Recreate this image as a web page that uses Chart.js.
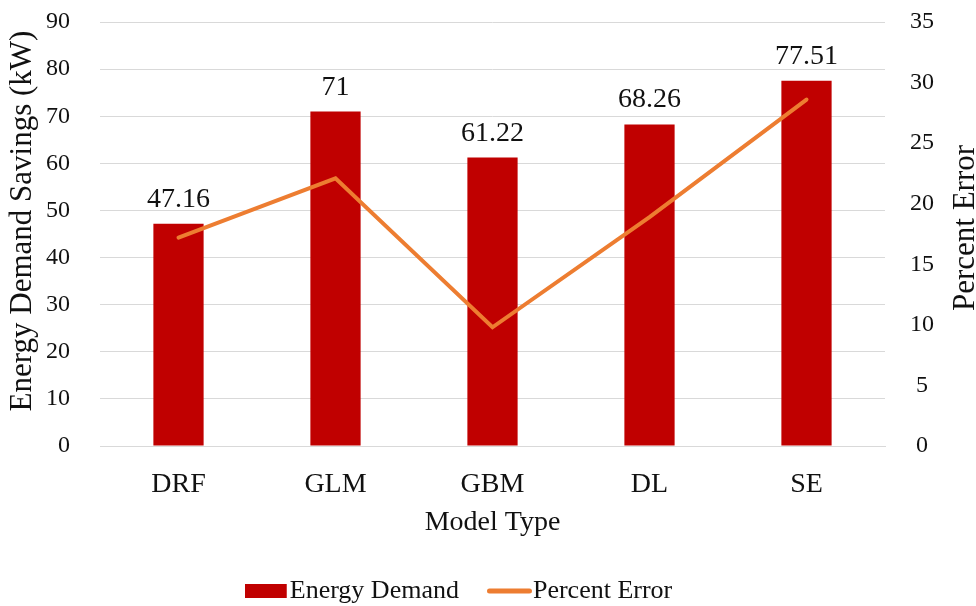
<!DOCTYPE html>
<html>
<head>
<meta charset="utf-8">
<script src="https://cdn.jsdelivr.net/npm/chart.js@4.4.1/dist/chart.umd.min.js"></script>
<style>
  html, body { margin: 0; padding: 0; background: #fff; }
  .chartBox { width: 976px; height: 606px; }
</style>
</head>
<body>
<div class="chartBox">
  <canvas id="myCanvas"></canvas>
</div>
<script>
const modelTypes = ["DRF", "GLM", "GBM", "DL", "SE"];
const energyDemand = [47.16, 71, 61.22, 68.26, 77.51];
const percentError = [17.2, 22.1, 9.8, 18.9, 28.6];
const leftTicks = { min: 0, max: 90, step: 10 };
const rightTicks = { min: 0, max: 35, step: 5 };

const barColor = "#C00000";
const lineColor = "#ED7D31";
const textColor = "#111";
const serif = "'Liberation Serif', 'Times New Roman', serif";
const hidden = "rgba(0,0,0,0)";

Chart.defaults.font.family = serif;
Chart.defaults.color = textColor;

// legend swatches (drawn off-centre so the text sits close like in Excel)
const makeSwatch = (w, h, draw) => {
  const c = document.createElement("canvas");
  c.width = w;
  c.height = h;
  draw(c.getContext("2d"));
  return c;
};
const barSwatch = makeSwatch(55, 14, (g) => {
  g.fillStyle = barColor;
  g.fillRect(0, 0, 42, 14);
});
const lineSwatch = makeSwatch(57, 6, (g) => {
  g.strokeStyle = lineColor;
  g.lineWidth = 5;
  g.lineCap = "round";
  g.beginPath();
  g.moveTo(2.5, 3);
  g.lineTo(42.5, 3);
  g.stroke();
});

// value labels above the bars
const barLabels = {
  id: "barLabels",
  afterDatasetsDraw(chart) {
    const ctx = chart.ctx;
    const meta = chart.getDatasetMeta(0);
    ctx.save();
    ctx.font = "28px " + serif;
    ctx.fillStyle = textColor;
    ctx.textAlign = "center";
    ctx.textBaseline = "alphabetic";
    meta.data.forEach((bar, i) => {
      ctx.fillText(String(energyDemand[i]), bar.x, bar.y - 17);
    });
    ctx.restore();
  },
};

// both value-axis titles read bottom-to-top
const axisTitles = {
  id: "axisTitles",
  afterDraw(chart) {
    const ctx = chart.ctx;
    const drawTitle = (text, x, y) => {
      ctx.save();
      ctx.translate(x, y);
      ctx.rotate(-Math.PI / 2);
      ctx.font = "31px " + serif;
      ctx.fillStyle = textColor;
      ctx.textAlign = "center";
      ctx.textBaseline = "alphabetic";
      ctx.fillText(text, 0, 0);
      ctx.restore();
    };
    drawTitle("Energy Demand Savings (kW)", 31, 221);
    drawTitle("Percent Error", 974, 228);
  },
};

new Chart(document.getElementById("myCanvas"), {
  type: "bar",
  data: {
    labels: modelTypes,
    datasets: [
      {
        type: "bar",
        label: "Energy Demand",
        data: energyDemand,
        backgroundColor: barColor,
        borderWidth: 0,
        categoryPercentage: 1,
        barPercentage: 0.32,
        yAxisID: "y",
        order: 2,
        pointStyle: barSwatch,
      },
      {
        type: "line",
        label: "Percent Error",
        data: percentError,
        borderColor: lineColor,
        backgroundColor: lineColor,
        borderWidth: 4,
        borderCapStyle: "round",
        borderJoinStyle: "miter",
        pointRadius: 0,
        tension: 0,
        yAxisID: "y1",
        order: 1,
        pointStyle: lineSwatch,
      },
    ],
  },
  options: {
    responsive: true,
    maintainAspectRatio: false,
    animation: false,
    layout: { padding: { left: 6, right: 42, top: 22, bottom: -8 } },
    plugins: {
      tooltip: { enabled: false },
      legend: {
        position: "bottom",
        labels: {
          usePointStyle: true,
          pointStyleWidth: 9,
          boxHeight: 14,
          padding: 52,
          font: { size: 26 },
          color: textColor,
          sort: (a, b) => a.datasetIndex - b.datasetIndex,
        },
      },
    },
    scales: {
      x: {
        grid: { display: false, drawTicks: true, tickLength: 22 },
        border: { display: true, color: "#d9d9d9", width: 1 },
        ticks: { padding: 0, font: { size: 28 } },
        title: {
          display: true,
          text: "Model Type",
          font: { size: 28 },
          padding: { top: 4.6, bottom: -13.8 },
        },
      },
      y: {
        position: "left",
        min: leftTicks.min,
        max: leftTicks.max,
        ticks: { stepSize: leftTicks.step, padding: 0, font: { size: 24 } },
        grid: { color: "#d9d9d9", lineWidth: 1, drawTicks: true, tickLength: 30, tickColor: hidden },
        border: { display: false },
        // keeps the space; the visible title is drawn by axisTitles
        title: {
          display: true,
          text: "Energy Demand Savings (kW)",
          color: hidden,
          font: { size: 28 },
          padding: { top: 0, bottom: 6.4 },
        },
      },
      y1: {
        position: "right",
        min: rightTicks.min,
        max: rightTicks.max,
        ticks: { stepSize: rightTicks.step, padding: 0, crossAlign: "center", font: { size: 24 } },
        grid: { display: false, drawTicks: true, tickLength: 25 },
        border: { display: false },
      },
    },
  },
  plugins: [barLabels, axisTitles],
});
</script>
</body>
</html>
